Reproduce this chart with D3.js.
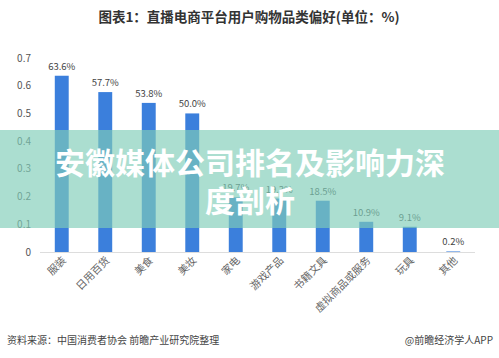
<!DOCTYPE html>
<html>
<head>
<meta charset="utf-8">
<script src="https://cdn.jsdelivr.net/npm/d3@7"></script>
<style>
body{margin:0;background:#fff;}
svg{display:block;font-family:"Noto Sans CJK SC","Noto Sans",sans-serif;}
</style>
</head>
<body>
<svg id="chart"></svg>
<script>
const width=499;
const height=358;

const categories=['服装','日用百货','美食','美妆','家电','游戏产品','书籍文具','虚拟商品或服务','玩具','其他'];
const values=[63.6,57.7,53.8,50.0,19.7,19.3,18.5,10.9,9.1,0.2];
const yTicks=[0,0.1,0.2,0.3,0.4,0.5,0.6,0.7];

const title='图表1：直播电商平台用户购物品类偏好(单位：%)';
const banner=['安徽媒体公司排名及影响力深','度剖析'];
const source='资料来源：中国消费者协会 前瞻产业研究院整理';
const brand='@前瞻经济学人APP';

const svg=d3.select('#chart')
  .attr('width',width)
  .attr('height',height);

const x=d3.scaleBand()
  .domain(categories)
  .range([40,475])
  .paddingInner(0.68)
  .paddingOuter(0.34);

const y=d3.scaleLinear()
  .domain([0,0.7])
  .range([252,58]);

// title
svg.append('text')
  .attr('x',249)
  .attr('y',22)
  .attr('text-anchor','middle')
  .attr('font-size',13.5)
  .attr('font-weight','bold')
  .attr('fill','#333')
  .text(title);

// y tick labels
svg.append('g')
  .selectAll('text')
  .data(yTicks)
  .enter().append('text')
  .attr('x',31)
  .attr('y',d=>y(d)+3.5)
  .attr('text-anchor','end')
  .attr('font-size',10)
  .attr('fill','#555')
  .text(d=>d);

// baseline
svg.append('line')
  .attr('x1',40).attr('x2',475)
  .attr('y1',y(0)+0.5).attr('y2',y(0)+0.5)
  .attr('stroke','#ddd');

// bars
svg.append('g')
  .selectAll('rect')
  .data(values)
  .enter().append('rect')
  .attr('x',(d,i)=>x(categories[i]))
  .attr('y',d=>y(d/100))
  .attr('width',x.bandwidth())
  .attr('height',d=>y(0)-y(d/100))
  .attr('fill','#3b7fdc');

// value labels
svg.append('g')
  .selectAll('text')
  .data(values)
  .enter().append('text')
  .attr('x',(d,i)=>x(categories[i])+x.bandwidth()/2)
  .attr('y',d=>y(d/100)-6)
  .attr('text-anchor','middle')
  .attr('font-size',9.5)
  .attr('fill','#444')
  .text(d=>d.toFixed(1)+'%');

// x labels, rotated
svg.append('g')
  .selectAll('text')
  .data(categories)
  .enter().append('text')
  .attr('transform',d=>'translate('+(x(d)+x.bandwidth()/2+5)+','+(y(0)+9)+') rotate(-45)')
  .attr('text-anchor','end')
  .attr('font-size',10.5)
  .attr('fill','#666')
  .text(d=>d);

// footer
svg.append('text')
  .attr('x',7)
  .attr('y',344)
  .attr('font-size',10)
  .attr('fill','#444')
  .text(source);

svg.append('text')
  .attr('x',493)
  .attr('y',344)
  .attr('text-anchor','end')
  .attr('font-size',10)
  .attr('fill','#444')
  .text(brand);

// overlay banner
svg.append('rect')
  .attr('x',0)
  .attr('y',130)
  .attr('width',width)
  .attr('height',98)
  .attr('fill','rgb(127,205,184)')
  .attr('fill-opacity',0.66);

svg.append('g')
  .selectAll('text')
  .data(banner)
  .enter().append('text')
  .attr('x',250)
  .attr('y',(d,i)=>174+i*38)
  .attr('text-anchor','middle')
  .attr('font-size',30)
  .attr('font-weight','bold')
  .attr('fill','#fff')
  .text(d=>d);
</script>
</body>
</html>
